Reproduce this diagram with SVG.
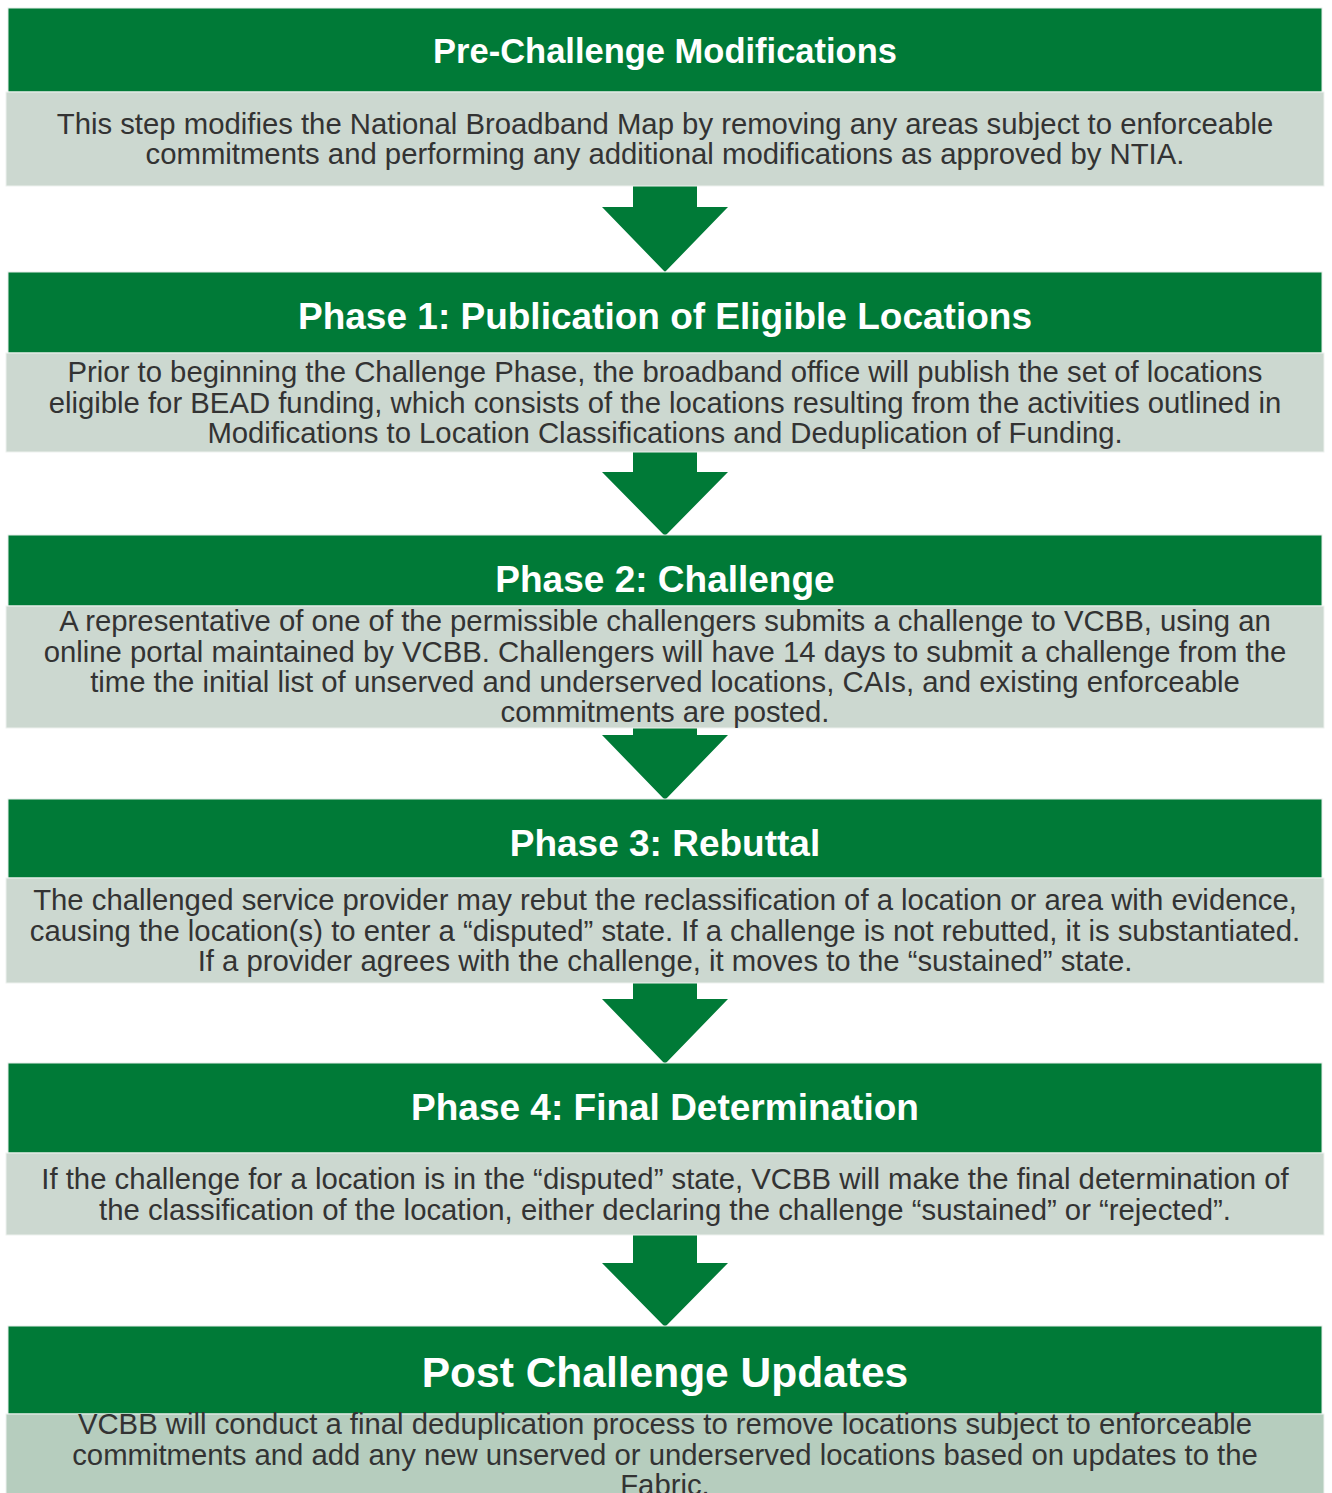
<svg xmlns="http://www.w3.org/2000/svg" width="1332" height="1493" viewBox="0 0 1332 1493">
<style>
.hdr{fill:#007a37;stroke:#e6eee9;stroke-width:1}
.body{fill:#ccd8d0;stroke:#eef2ef;stroke-width:1}
.body2{fill:#b6cdbe;stroke:#eef2ef;stroke-width:1}
.arr{fill:#007a37}
.t{font-family:"Liberation Sans",Arial,sans-serif;font-weight:bold;fill:#ffffff;text-anchor:middle}
.b{font-family:"Liberation Sans",Arial,sans-serif;font-size:29.3px;fill:#333333;text-anchor:middle}
</style>
<rect width="1332" height="1493" fill="#ffffff"/>
<g id="connectors">
<polygon class="arr" points="633,186 697,186 697,207 728,207 665,272 602,207 633,207"/>
<polygon class="arr" points="633,452 697,452 697,472 728,472 665,536 602,472 633,472"/>
<polygon class="arr" points="633,728 697,728 697,735 728,735 665,800 602,735 633,735"/>
<polygon class="arr" points="633,983 697,983 697,999 728,999 665,1064 602,999 633,999"/>
<polygon class="arr" points="633,1235 697,1235 697,1263 728,1263 665,1327 602,1263 633,1263"/>
</g>
<g id="pre-challenge">
<rect class="hdr" x="8" y="8" width="1314" height="84"/>
<rect class="body" x="6" y="92" width="1318" height="94"/>
<text class="t" x="665" y="63" font-size="34.5">Pre-Challenge Modifications</text>
<text class="b" x="665" y="134">This step modifies the National Broadband Map by removing any areas subject to enforceable</text>
<text class="b" x="665" y="164">commitments and performing any additional modifications as approved by NTIA.</text>
</g>
<g id="phase1">
<rect class="hdr" x="8" y="272" width="1314" height="81"/>
<rect class="body" x="6" y="353" width="1318" height="99"/>
<text class="t" x="665" y="329" font-size="37">Phase 1: Publication of Eligible Locations</text>
<text class="b" x="665" y="382">Prior to beginning the Challenge Phase, the broadband office will publish the set of locations</text>
<text class="b" x="665" y="413">eligible for BEAD funding, which consists of the locations resulting from the activities outlined in</text>
<text class="b" x="665" y="443">Modifications to Location Classifications and Deduplication of Funding.</text>
</g>
<g id="phase2">
<rect class="hdr" x="8" y="535" width="1314" height="71"/>
<rect class="body" x="6" y="606" width="1318" height="122"/>
<text class="t" x="665" y="592" font-size="37">Phase 2: Challenge</text>
<text class="b" x="665" y="631">A representative of one of the permissible challengers submits a challenge to VCBB, using an</text>
<text class="b" x="665" y="662">online portal maintained by VCBB. Challengers will have 14 days to submit a challenge from the</text>
<text class="b" x="665" y="692">time the initial list of unserved and underserved locations, CAIs, and existing enforceable</text>
<text class="b" x="665" y="722">commitments are posted.</text>
</g>
<g id="phase3">
<rect class="hdr" x="8" y="799" width="1314" height="79"/>
<rect class="body" x="6" y="878" width="1318" height="105"/>
<text class="t" x="665" y="856" font-size="37">Phase 3: Rebuttal</text>
<text class="b" x="665" y="910">The challenged service provider may rebut the reclassification of a location or area with evidence,</text>
<text class="b" x="665" y="941">causing the location(s) to enter a “disputed” state. If a challenge is not rebutted, it is substantiated.</text>
<text class="b" x="665" y="971">If a provider agrees with the challenge, it moves to the “sustained” state.</text>
</g>
<g id="phase4">
<rect class="hdr" x="8" y="1063" width="1314" height="90"/>
<rect class="body" x="6" y="1153" width="1318" height="82"/>
<text class="t" x="665" y="1120" font-size="37">Phase 4: Final Determination</text>
<text class="b" x="665" y="1189">If the challenge for a location is in the “disputed” state, VCBB will make the final determination of</text>
<text class="b" x="665" y="1220">the classification of the location, either declaring the challenge “sustained” or “rejected”.</text>
</g>
<g id="post-challenge">
<rect class="hdr" x="8" y="1326" width="1314" height="88"/>
<rect class="body2" x="6" y="1414" width="1318" height="85"/>
<text class="t" x="665" y="1387" font-size="42.5">Post Challenge Updates</text>
<text class="b" x="665" y="1434">VCBB will conduct a final deduplication process to remove locations subject to enforceable</text>
<text class="b" x="665" y="1465">commitments and add any new unserved or underserved locations based on updates to the</text>
<text class="b" x="665" y="1495">Fabric.</text>
</g>
</svg>
